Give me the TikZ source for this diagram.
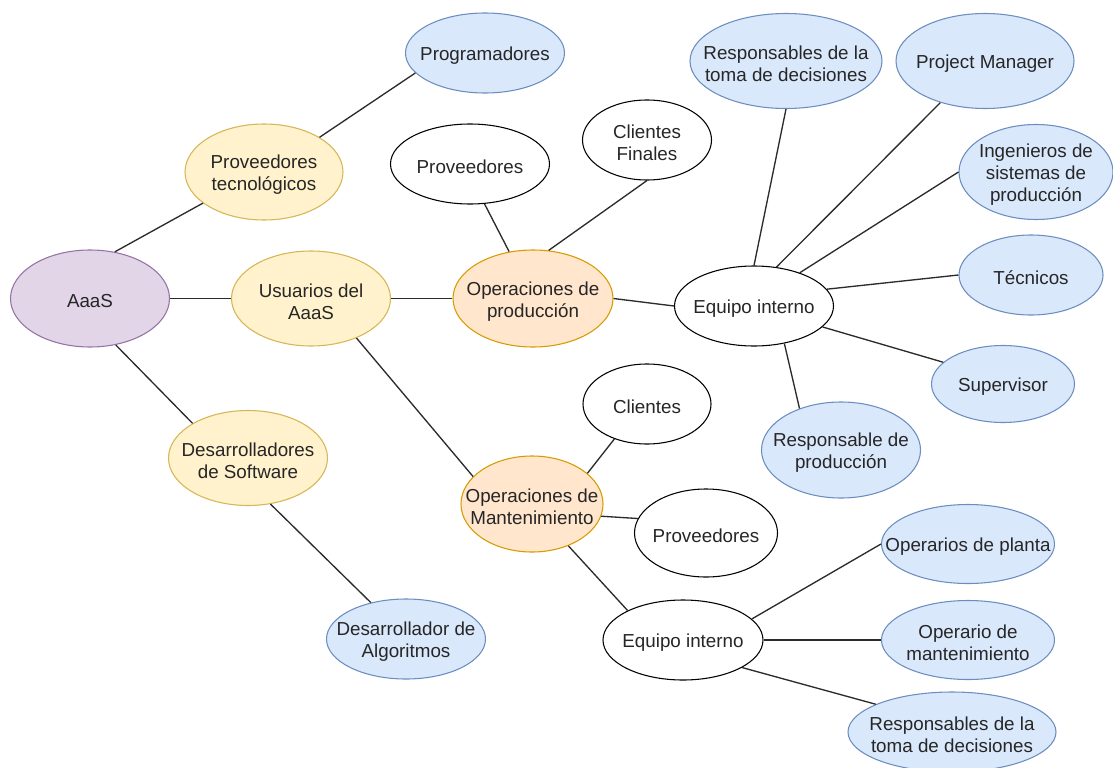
\documentclass[tikz,border=0pt]{standalone}
\usepackage{fontspec}
\setmainfont{Liberation Sans}
\usetikzlibrary{shapes.geometric}

\definecolor{bluefill}{HTML}{DAE8FC}
\definecolor{bluedraw}{HTML}{6C8EBF}
\definecolor{yellowfill}{HTML}{FFF2CC}
\definecolor{yellowdraw}{HTML}{D6B656}
\definecolor{orangefill}{HTML}{FFE6CC}
\definecolor{orangedraw}{HTML}{D79B00}
\definecolor{purplefill}{HTML}{E1D5E7}
\definecolor{purpledraw}{HTML}{9673A6}
\definecolor{inkgray}{HTML}{262626}
\definecolor{linkgray}{HTML}{2B2B2B}

\tikzset{
  txt/.style={font=\fontsize{14.1}{16.5}\selectfont, align=center, text=inkgray,
    inner sep=0pt, yshift=-2.2pt},
  ell/.style n args={3}{ellipse, draw, line width=0.8pt, inner sep=0pt,
    minimum width=#1*0.75pt, minimum height=#2*0.75pt, label={[txt]center:{#3}}},
  rootnode/.style={fill=purplefill, draw=purpledraw},
  groupnode/.style={fill=yellowfill, draw=yellowdraw},
  opsnode/.style={fill=orangefill, draw=orangedraw},
  rolenode/.style={fill=bluefill, draw=bluedraw},
  plainnode/.style={fill=white, draw=black},
  link/.style={draw=linkgray, line width=1pt}
}

\begin{document}
\begin{tikzpicture}[x=0.75pt, y=-0.75pt]
\useasboundingbox (0,0) rectangle (1113,767);

% left side: root and first level
\node[rootnode,  ell={159}{97}{AaaS}] (aaas) at (90,298.5) {};
\node[groupnode, ell={158}{96}{Proveedores\\tecnológicos}] (provtec) at (264,172) {};
\node[rolenode,  ell={159}{80}{Programadores}] (prog) at (485,53) {};
\node[groupnode, ell={159}{95}{Usuarios del\\AaaS}] (usu) at (311,298.5) {};
\node[groupnode, ell={159}{95}{Desarrolladores\\de Software}] (des) at (248,458) {};
\node[rolenode,  ell={159}{80}{Desarrollador de\\Algoritmos}] (algo) at (406,639) {};

% production operations branch
\node[opsnode,   ell={160}{97}{Operaciones de\\producción}] (opp) at (533,298.5) {};
\node[plainnode, ell={159}{80}{Proveedores}] (provA) at (470,164) {};
\node[plainnode, ell={129}{80}{Clientes\\Finales}] (clif) at (647,140) {};
\node[plainnode, ell={159}{80}{Equipo interno}] (eq1) at (754,306) {};
\node[rolenode,  ell={192}{95}{Responsables de la\\toma de decisiones}] (resp1) at (786,61) {};
\node[rolenode,  ell={178}{95}{Project Manager}] (pm) at (985,61) {};
\node[rolenode,  ell={154}{95}{Ingenieros de\\sistemas de\\producción}] (ing) at (1036,172) {};
\node[rolenode,  ell={144}{80}{Técnicos}] (tec) at (1031,275) {};
\node[rolenode,  ell={143}{77}{Supervisor}] (sup) at (1003,384) {};
\node[rolenode,  ell={159}{96}{Responsable de\\producción}] (rprod) at (841,450) {};

% maintenance operations branch
\node[opsnode,   ell={142}{96}{Operaciones de\\Mantenimiento}] (opm) at (532,504) {};
\node[plainnode, ell={128}{80}{Clientes}] (cli) at (647,404) {};
\node[plainnode, ell={143}{88}{Proveedores}] (provB) at (706,533) {};
\node[plainnode, ell={160}{80}{Equipo interno}] (eq2) at (683,640) {};
\node[rolenode,  ell={173}{79}{Operarios de planta}] (opl) at (968,544) {};
\node[rolenode,  ell={173}{79}{Operario de\\mantenimiento}] (opmt) at (968,640) {};
\node[rolenode,  ell={208}{80}{Responsables de la\\toma de decisiones}] (resp2) at (952,732) {};

% connectors
\draw[link] (aaas.62.5) -- (provtec.207);
\draw[link] (provtec.32.5) -- (prog.196.6);
\draw[link] (aaas.east) -- (usu.west);
\draw[link] (aaas.-61) -- (des.148);
\draw[link] (usu.east) -- (opp.west);
\draw[link] (usu.-41.7) -- (opm.155.4);
\draw[link] (des.-64) -- (algo.134);

\draw[link] (provA.-70) -- (opp.117.5);
\draw[link] (clif.south) -- (opp.72);
\draw[link] (opp.east) -- (eq1.west);
\draw[link] (eq1.north) -- (resp1.south);
\draw[link] (eq1.60.7) -- (pm.223);
\draw[link] (eq1.36.5) -- (ing.west);
\draw[link] (eq1.13.9) -- (tec.west);
\draw[link] (eq1.-17) -- (sup.160);
\draw[link] (eq1.-51.5) -- (rprod.135);

\draw[link] (opm.29) -- (cli.227);
\draw[link] (opm.-10.5) -- (provB.168.5);
\draw[link] (opm.-49) -- (eq2.152.6);
\draw[link] (eq2.17.4) -- (opl.west);
\draw[link] (eq2.east) -- (opmt.west);
\draw[link] (eq2.-25.3) -- (resp2.160);
\end{tikzpicture}
\end{document}
